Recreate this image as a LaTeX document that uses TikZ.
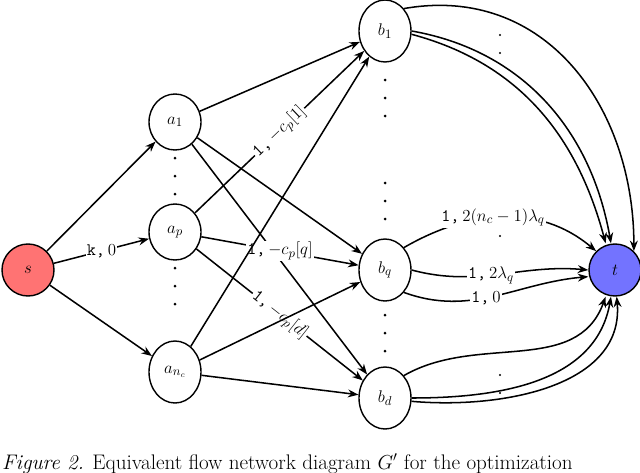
\documentclass[tikz,border=0pt]{standalone}
\usepackage{amsmath}
\usetikzlibrary{shapes.geometric,arrows.meta}
\begin{document}
\begin{tikzpicture}[x=0.03cm,y=-0.03cm,
 nd/.style={draw,line width=1.2pt,ellipse,minimum width=26*0.03cm,minimum height=29*0.03cm,inner sep=0pt,fill=white,font=\fontsize{15}{17}\selectfont},
 ed/.style={line width=1.3pt,-{Stealth[length=9pt]}},
 lb/.style={fill=white,inner sep=1pt,font=\fontsize{15}{17}\selectfont}]
\useasboundingbox (0,0) rectangle (640,472);
\node[nd,fill=red!55,minimum width=52*0.03cm,minimum height=52*0.03cm] (s) at (28,270) {$s$};
\node[nd,fill=blue!55,minimum width=52*0.03cm,minimum height=52*0.03cm] (t) at (615,270) {$t$};
\node[nd,minimum width=52*0.03cm,minimum height=56*0.03cm] (a1) at (175,122) {$a_1$};
\node[nd,minimum width=52*0.03cm,minimum height=56*0.03cm] (ap) at (175,232) {$a_p$};
\node[nd,minimum width=52*0.03cm,minimum height=62*0.03cm] (an) at (175,372) {$a_{n_c}$};
\node[nd,minimum width=52*0.03cm,minimum height=62*0.03cm] (b1) at (385,31) {$b_1$};
\node[nd,minimum width=52*0.03cm,minimum height=62*0.03cm] (bq) at (385,270) {$b_q$};
\node[nd,minimum width=52*0.03cm,minimum height=62*0.03cm] (bd) at (385,398) {$b_d$};
% dots
\foreach \y in {158,176,194, 268,286,304} \fill (175,\y) circle (1.5);
\foreach \y in {80,98,116, 183,201,219, 315,333,351} \fill (385,\y) circle (1.5);
\foreach \y in {35,53, 225,236, 375,393} \fill (500,\y) circle (1.2);
% s edges
\draw[ed] (s) -- (a1);
\draw[ed] (s) -- node[lb]{\texttt{k,}\,$0$} (ap);
\draw[ed] (s) -- (an);
% a -> b
\draw[ed] (a1) -- (b1);
\draw[ed] (a1) -- (bq);
\draw[ed] (a1) -- (bd);
\draw[ed] (ap) -- node[lb,sloped]{\texttt{1,}\,$-c_p[1]$} (b1);
\draw[ed] (ap) -- node[lb]{\texttt{1,}\,$-c_p[q]$} (bq);
\draw[ed] (ap) -- node[lb,sloped]{\texttt{1,}\,$-c_p[d]$} (bd);
\draw[ed] (an) -- (b1);
\draw[ed] (an) -- (bq);
\draw[ed] (an) -- (bd);
% b1 -> t
\draw[ed] (b1.north east) to[out=10,in=90,looseness=1.1] (t.north east);
\draw[ed] (b1.east) to[out=-10,in=100] ([xshift=-0.12cm]t.north);
\draw[ed] ([yshift=-0.1cm]b1.east) to[out=-15,in=105] ([xshift=-0.28cm]t.north);
% bd -> t
\draw[ed] (bd.north east) to[out=30,in=-110] ([xshift=-0.28cm]t.south);
\draw[ed] (bd.east) to[out=0,in=-100] ([xshift=-0.12cm]t.south);
\draw[ed] ([yshift=-0.1cm]bd.east) to[out=-5,in=-85] ([xshift=0.05cm]t.south);
% bq -> t
\draw[ed] (bq.north east) to[out=30,in=140] node[lb,pos=0.45]{\texttt{1,}\,$2(n_c-1)\lambda_q$} (t.north west);
\draw[ed] (bq.east) to[out=-15,in=175] node[lb,pos=0.45]{\texttt{1,}\,$2\lambda_q$} (t.west);
\draw[ed] (bq.south east) to[out=-20,in=185] node[lb,pos=0.45]{\texttt{1,}\,$0$} ([yshift=-0.2cm]t.west);
\node[anchor=base west,font=\fontsize{18}{20}\selectfont,inner sep=0] (cap) at (2,469) {\textit{Figure 2.} Equivalent flow network diagram $G'$ for the optimization};
\end{tikzpicture}
\end{document}
